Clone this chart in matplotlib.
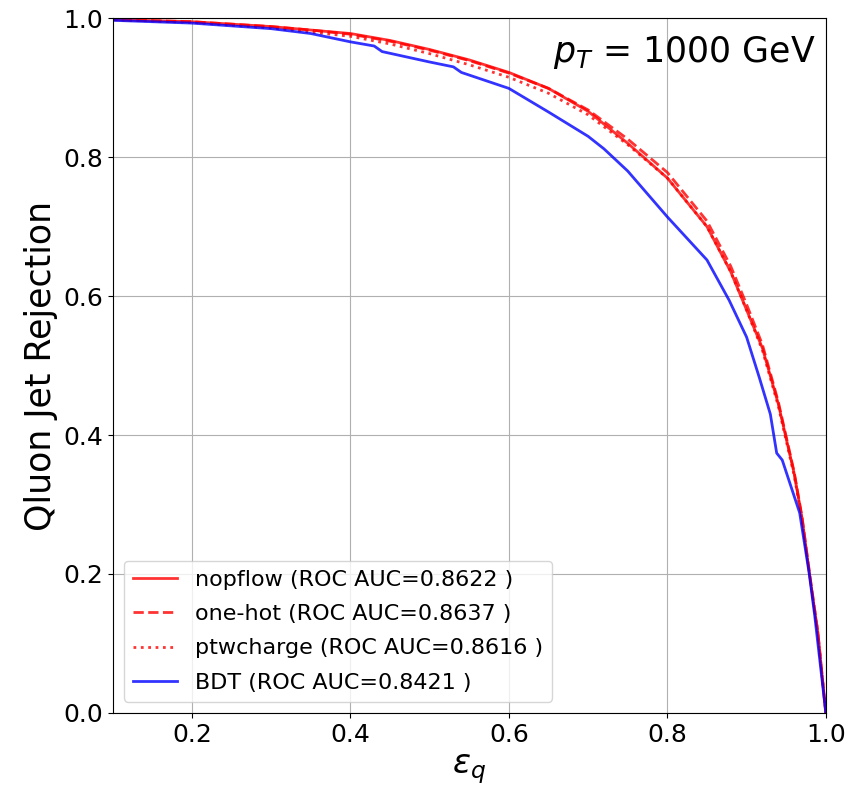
import matplotlib
matplotlib.use("Agg")
import matplotlib.pyplot as plt

# nopflow
x_nopflow = [0.0, 0.1, 0.2, 0.3, 0.35, 0.4, 0.45, 0.5, 0.55, 0.6, 0.65, 0.7, 0.75, 0.8, 0.85, 0.88, 0.9, 0.92, 0.94, 0.96, 0.97, 0.98, 0.99, 1.0]
y_nopflow = [1.0, 0.998, 0.995, 0.988, 0.983, 0.978, 0.968, 0.955, 0.94, 0.922, 0.899, 0.866, 0.82, 0.77, 0.70, 0.635, 0.58, 0.525, 0.445, 0.345, 0.28, 0.195, 0.115, 0.0]
# one-hot
x_onehot = [0.0, 0.1, 0.2, 0.3, 0.35, 0.4, 0.45, 0.5, 0.55, 0.6, 0.65, 0.7, 0.75, 0.8, 0.85, 0.88, 0.9, 0.92, 0.94, 0.96, 0.97, 0.98, 0.99, 1.0]
y_onehot = [1.0, 0.998, 0.995, 0.988, 0.983, 0.977, 0.967, 0.954, 0.939, 0.921, 0.899, 0.868, 0.826, 0.778, 0.708, 0.643, 0.588, 0.53, 0.448, 0.347, 0.282, 0.197, 0.116, 0.0]
# ptwcharge
x_ptw = [0.0, 0.1, 0.2, 0.3, 0.35, 0.4, 0.45, 0.5, 0.55, 0.6, 0.65, 0.7, 0.75, 0.8, 0.85, 0.88, 0.9, 0.92, 0.94, 0.96, 0.97, 0.98, 0.99, 1.0]
y_ptw = [1.0, 0.998, 0.994, 0.986, 0.98, 0.974, 0.963, 0.949, 0.933, 0.915, 0.892, 0.861, 0.818, 0.77, 0.70, 0.635, 0.58, 0.522, 0.442, 0.342, 0.278, 0.194, 0.114, 0.0]
# BDT
x_bdt = [0.0, 0.1, 0.2, 0.3, 0.35, 0.4, 0.43, 0.44, 0.5, 0.53, 0.54, 0.6, 0.65, 0.7, 0.72, 0.75, 0.8, 0.85, 0.878, 0.9, 0.916, 0.93, 0.938, 0.945, 0.967, 0.979, 0.986, 1.0]
y_bdt = [1.0, 0.997, 0.993, 0.985, 0.978, 0.966, 0.96, 0.952, 0.937, 0.93, 0.922, 0.899, 0.865, 0.83, 0.812, 0.78, 0.714, 0.652, 0.594, 0.541, 0.483, 0.43, 0.374, 0.364, 0.288, 0.201, 0.14, 0.0]

labels = ["nopflow (ROC AUC=0.8622 )", "one-hot (ROC AUC=0.8637 )",
          "ptwcharge (ROC AUC=0.8616 )", "BDT (ROC AUC=0.8421 )"]

fig = plt.figure(figsize=(8.54, 7.93), dpi=100)
ax = fig.add_axes([0.132, 0.101, 0.835, 0.876])

ax.plot(x_nopflow, y_nopflow, color="red", alpha=0.8, lw=2, ls="-", label=labels[0])
ax.plot(x_onehot, y_onehot, color="red", alpha=0.8, lw=2, ls="--", label=labels[1])
ax.plot(x_ptw, y_ptw, color="red", alpha=0.8, lw=2, ls=":", label=labels[2])
ax.plot(x_bdt, y_bdt, color="blue", alpha=0.8, lw=2, ls="-", label=labels[3])

ax.set_xlim(0.1, 1.0)
ax.set_ylim(0.0, 1.0)
ax.set_xticks([0.2, 0.4, 0.6, 0.8, 1.0])
ax.set_yticks([0.0, 0.2, 0.4, 0.6, 0.8, 1.0])
ax.tick_params(labelsize=18)
ax.grid(True)
ax.set_xlabel(r"$\varepsilon_q$", fontsize=24)
ax.set_ylabel("Qluon Jet Rejection", fontsize=25)
ax.text(0.985, 0.95, r"$p_T$ = 1000 GeV", transform=ax.transAxes, ha="right", va="center", fontsize=25)
ax.legend(loc="lower left", fontsize=16, labelspacing=0.65)

fig.savefig("out.png", dpi=100)
